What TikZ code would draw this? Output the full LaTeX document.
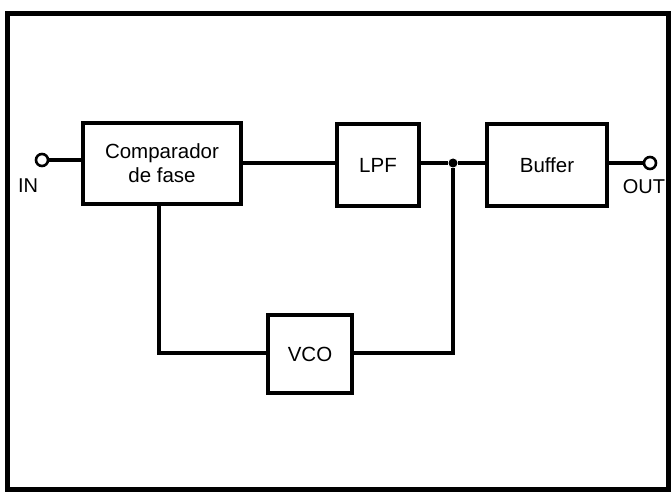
\documentclass[tikz,border=0pt]{standalone}
\usepackage{fontspec}
\setmainfont{Liberation Sans}
\begin{document}
\begin{tikzpicture}[x=1pt,y=-1pt,
  blk/.style={draw,line width=3.6pt,rectangle,inner sep=0pt,align=center,
    font=\fontsize{20.5}{24}\selectfont},
  wire/.style={line width=3.2pt},
  term/.style={draw,circle,line width=2.6pt,minimum size=12pt,inner sep=0pt,fill=white},
  lbl/.style={font=\fontsize{20}{22}\selectfont,inner sep=0pt},
  jdot/.style={circle,fill,minimum size=9pt,inner sep=0pt}]
\useasboundingbox (0,0) rectangle (672,494);
\draw[line width=5pt] (7,14) rectangle (668,489);
\node[blk,minimum width=158pt,minimum height=81pt] (comp) at (162,163.5) {Comparador\\de fase};
\node[blk,minimum width=82pt,minimum height=82pt] (lpf) at (378,165) {LPF};
\node[blk,minimum width=120pt,minimum height=82pt] (buf) at (547,165) {Buffer};
\node[blk,minimum width=84pt,minimum height=78pt] (vco) at (310,354) {VCO};
\node[term] (in) at (42,160) {};
\node[term] (out) at (650,163) {};
\node[lbl] (inl) at (28,186) {IN};
\node[lbl] (outl) at (644,187) {OUT};
\node[jdot] (j) at (453,163) {};
\coordinate (bl) at (159,353);
\coordinate (br) at (453,353);
\draw[wire] (in) -- (in -| comp.west);
\draw[wire] (comp.east |- j) -- (lpf.west |- j);
\draw[wire] (lpf.east |- j) -- (j) -- (buf.west |- j);
\draw[wire] (buf.east |- out) -- (out);
\draw[wire] (comp.south -| bl) -- (bl) -- (vco.west |- bl);
\draw[wire] (j) -- (br) -- (vco.east |- br);
\end{tikzpicture}
\end{document}
